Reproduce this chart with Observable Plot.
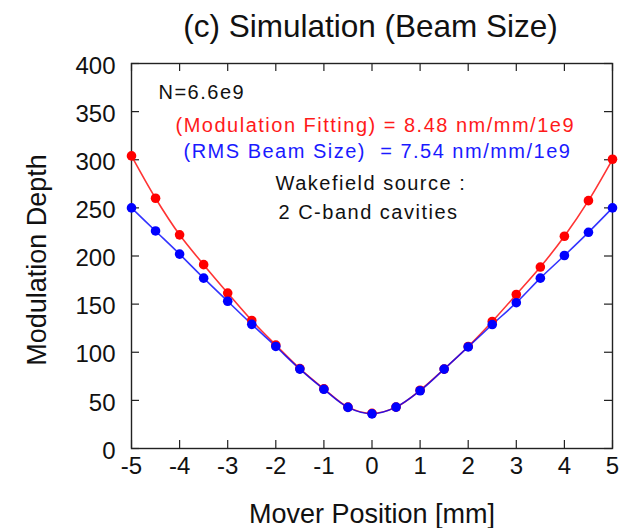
<!DOCTYPE html>
<html>
<head>
<meta charset="utf-8">
<script src="https://cdn.jsdelivr.net/npm/d3@7"></script>
<script src="https://cdn.jsdelivr.net/npm/@observablehq/plot@0.6"></script>
<style>
  html, body { margin: 0; padding: 0; background: #fff; }
  body { width: 637px; height: 528px; overflow: hidden; font-family: "Liberation Sans", Arial, sans-serif; }
  #title { height: 49px; padding-top: 1px; line-height: 50px; font-size: 31.5px; color: #111; text-align: center; padding-left: 104px; width: 533px; white-space: nowrap; }
  #chart svg { display: block; }
</style>
</head>
<body>
<div id="title">(c) Simulation (Beam Size)</div>
<div id="chart"></div>
<script>
const positions = [-5, -4.5, -4, -3.5, -3, -2.5, -2, -1.5, -1, -0.5, 0, 0.5, 1, 1.5, 2, 2.5, 3, 3.5, 4, 4.5, 5];
const modulationFitting = [304, 260, 222, 191, 161.5, 133, 107.5, 83, 62, 43, 36.5, 43, 60.5, 82.5, 106, 132, 160, 188.5, 220.5, 257.5, 300.5];
const rmsBeamSize = [250, 226, 202, 177, 153, 129, 106, 82.5, 61.5, 42.7, 36, 43, 60, 82.5, 105.5, 128.8, 151.5, 177, 200.5, 224.6, 250];
const xTicks = [-5, -4, -3, -2, -1, 0, 1, 2, 3, 4, 5];
const yTicks = [0, 50, 100, 150, 200, 250, 300, 350, 400];
const seriesNames = ["Modulation Fitting", "RMS Beam Size"];
const annotationTexts = [
  "N=6.6e9",
  "(Modulation Fitting) = 8.48 nm/mm/1e9",
  "(RMS Beam Size)  = 7.54 nm/mm/1e9",
  "Wakefield source :",
  "2 C-band cavities"
];
const annotationColors = ["#111", "#ff1a1a", "#1a1aff", "#111", "#111"];

const data = [];
positions.forEach((p, i) => {
  data.push({series: seriesNames[0], x: p, y: modulationFitting[i]});
  data.push({series: seriesNames[1], x: p, y: rmsBeamSize[i]});
});

const W = 637, H = 478, mL = 131, mR = 25, mT = 13, mB = 80;
const frameW = W - mL - mR, frameH = H - mT - mB, tickLen = 8;
// annotation placement (pixel offsets from the frame's top-left corner)
const annotationOffsets = [[27, 35], [44, 68], [52, 94], [144, 126], [147, 155]];

const annotationMarks = annotationTexts.map((t, i) =>
  Plot.text([t], {
    frameAnchor: "top-left", textAnchor: "start", lineAnchor: "bottom",
    dx: annotationOffsets[i][0], dy: annotationOffsets[i][1],
    fill: annotationColors[i], fontSize: 20
  })
);

const chart = Plot.plot({
  width: W,
  height: H,
  marginLeft: mL,
  marginRight: mR,
  marginTop: mT,
  marginBottom: mB,
  style: {fontFamily: "Liberation Sans, Arial, sans-serif", color: "#111", background: "#fff"},
  x: {domain: [-5, 5]},
  y: {domain: [0, 400]},
  color: {domain: seriesNames, range: ["#ff0000", "#0000ff"]},
  marks: [
    Plot.axisX(xTicks, {anchor: "bottom", tickSize: 0, tickPadding: 8, fontSize: 24, label: null, tickFormat: d => String(d)}),
    Plot.axisY(yTicks, {anchor: "left", tickSize: 0, tickPadding: 16, dy: 2.5, fontSize: 24, label: null, tickFormat: d => String(d)}),
    Plot.tickX(xTicks, {x: d => d, insetTop: frameH - tickLen, stroke: "#222", strokeWidth: 1.2}),
    Plot.tickX(xTicks, {x: d => d, insetBottom: frameH - tickLen, stroke: "#222", strokeWidth: 1.2}),
    Plot.tickY(yTicks, {y: d => d, insetRight: frameW - tickLen, stroke: "#222", strokeWidth: 1.2}),
    Plot.tickY(yTicks, {y: d => d, insetLeft: frameW - tickLen, stroke: "#222", strokeWidth: 1.2}),
    Plot.frame({stroke: "#222", strokeWidth: 1.4}),
    Plot.line(data, {x: "x", y: "y", z: "series", stroke: "series", strokeWidth: 1.6, strokeOpacity: 0.8, curve: "catmull-rom"}),
    Plot.dot(data, {x: "x", y: "y", fill: "series", r: 4.8}),
    ...annotationMarks,
    Plot.text(["Mover Position [mm]"], {frameAnchor: "bottom", lineAnchor: "bottom", dy: 74, fontSize: 27, fill: "#111"}),
    Plot.text(["Modulation Depth"], {frameAnchor: "left", textAnchor: "middle", lineAnchor: "middle", dx: -94, dy: 4, rotate: -90, fontSize: 27, fill: "#111"})
  ]
});
d3.select(chart).selectAll("text")
  .filter(function () { return annotationTexts.includes(this.textContent); })
  .style("letter-spacing", "1.5px")
  .style("white-space", "pre");
document.getElementById("chart").appendChild(chart);
</script>
</body>
</html>
